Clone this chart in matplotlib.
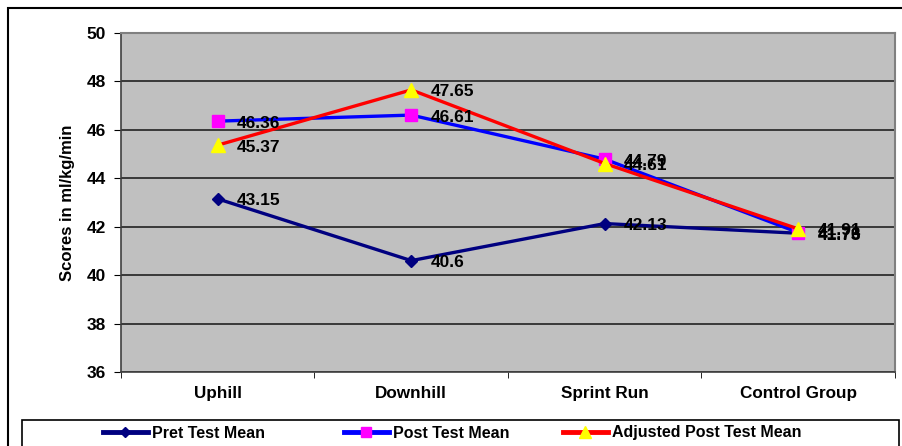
import matplotlib
matplotlib.use("Agg")
import matplotlib.pyplot as plt
from matplotlib.patches import Rectangle
from matplotlib.lines import Line2D
import numpy as np

plt.rcParams['font.family'] = ['Liberation Sans', 'DejaVu Sans']
plt.rcParams['font.weight'] = 'bold'

# ---- data ----
categories = ["Uphill", "Downhill", "Sprint Run", "Control Group"]
pret_mean = [43.15, 40.6, 42.13, 41.73]
post_mean = [46.36, 46.61, 44.79, 41.76]
adjusted_mean = [45.37, 47.65, 44.61, 41.91]
series_names = ["Pret Test Mean", "Post Test Mean", "Adjusted Post Test Mean"]
y_ticks = [36, 38, 40, 42, 44, 46, 48, 50]

W, H = 903, 446
fig = plt.figure(figsize=(W / 100, H / 100), dpi=100)
fig.patch.set_facecolor("white")

# outer chart frame (bottom/right run past the image edge)
fig.add_artist(Rectangle((8 / W, -0.1), 1.2, (H - 8) / H + 0.1,
                         transform=fig.transFigure, fill=False,
                         edgecolor="black", linewidth=1.5))

ax = fig.add_axes([121 / W, (H - 372) / H, (895 - 121) / W, (372 - 33) / H])
ax.set_facecolor("#C0C0C0")

x = np.arange(len(categories))
styles = [
    dict(color="#000080", marker="D", mfc="#000080", mec="#000080", ms=6),
    dict(color="#0000FF", marker="s", mfc="#FF00FF", mec="#FF00FF", ms=9),
    dict(color="#FF0000", marker="^", mfc="#FFFF00", mec="#FFFF00", ms=10),
]
for vals, st, name in zip([pret_mean, post_mean, adjusted_mean], styles, series_names):
    ax.plot(x, vals, lw=2.4, label=name, zorder=3, clip_on=False, **st)
    for xi, v in zip(x, vals):
        ax.annotate(f"{v:g}", (xi, v), xytext=(14, -1.5), textcoords="offset points",
                    ha="left", va="center", fontsize=12.5, fontweight="bold",
                    color="black", zorder=4)

ax.set_xlim(-0.5, len(categories) - 0.5)
ax.set_ylim(36, 50)
ax.set_yticks(y_ticks)
ax.set_yticklabels([str(t) for t in y_ticks], fontsize=12.5, fontweight="bold")
ax.set_xticks(x)
ax.set_xticklabels(categories, fontsize=12.3, fontweight="bold")
ax.tick_params(axis="x", length=0, pad=10)
ax.set_xticks(np.arange(-0.5, len(categories)), minor=True)
ax.tick_params(axis="x", which="minor", length=4, direction="out", color="black")
ax.tick_params(axis="y", length=5, direction="out", color="black", pad=6)
ax.yaxis.grid(True, color="#222222", linewidth=1.2)
ax.set_axisbelow(True)

for side in ["top", "right"]:
    ax.spines[side].set_color("#808080")
    ax.spines[side].set_linewidth(1.5)
for side in ["left", "bottom"]:
    ax.spines[side].set_color("#404040")
    ax.spines[side].set_linewidth(1.2)

ax.set_ylabel("Scores in ml/kg/min", fontsize=12, fontweight="bold", labelpad=8)

# legend box
fig.add_artist(Rectangle((22 / W, -0.1), (899 - 22) / W, (H - 420) / H + 0.1,
                         transform=fig.transFigure, fill=False,
                         edgecolor="black", linewidth=1.2))
leg_ms = [5, 7, 8]
leg_x = [103, 344, 563]
for st, name, ms, lx in zip(styles, series_names, leg_ms, leg_x):
    h = Line2D([], [], lw=3.5, **{**st, "ms": ms})
    fig.legend([h], [name], loc="center left",
               bbox_to_anchor=(lx / W, (H - 433) / H), frameon=False,
               borderpad=0, borderaxespad=0, handlelength=2.8,
               handletextpad=0.25, prop={"weight": "bold", "size": 11.5})

fig.savefig("out.png", dpi=100)
